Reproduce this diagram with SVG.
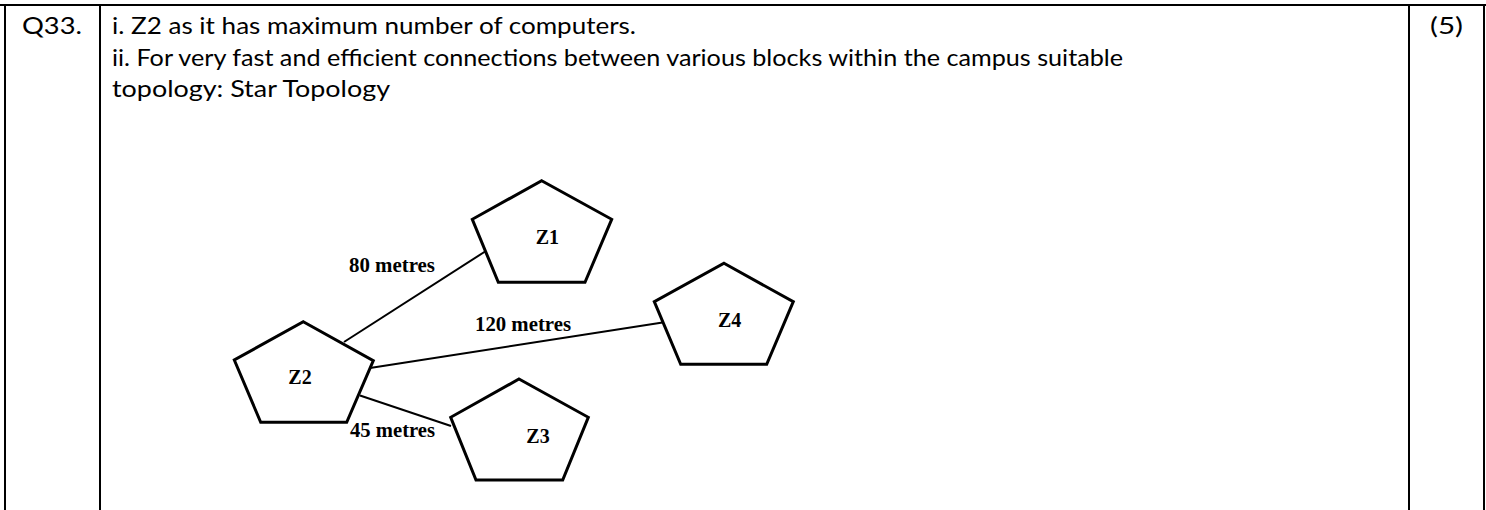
<svg xmlns="http://www.w3.org/2000/svg" width="1486" height="510" viewBox="0 0 1486 510">
<style>
.grid{stroke:#000;stroke-width:2;fill:none}
.t{font-family:Lato,"Open Sans","Liberation Sans",sans-serif;font-size:23px;fill:#000}
.pent{fill:#fff;stroke:#000;stroke-width:3;stroke-linejoin:miter}
.lbl{font-family:"Liberation Serif","Times New Roman",serif;font-weight:bold;font-size:20px;fill:#000}
.edge{stroke:#000;stroke-width:2;fill:none}
</style>
<rect width="1486" height="510" fill="#fff"/>
<g id="table">
<line class="grid" x1="0" y1="5" x2="1486" y2="5"/>
<line class="grid" x1="5" y1="4" x2="5" y2="510"/>
<line class="grid" x1="100" y1="4" x2="100" y2="510"/>
<line class="grid" x1="1409" y1="4" x2="1409" y2="510"/>
<line class="grid" x1="1484" y1="4" x2="1484" y2="510"/>
<text class="t" x="22" y="34" textLength="60" lengthAdjust="spacingAndGlyphs">Q33.</text>
<text class="t" x="112" y="34" textLength="524" lengthAdjust="spacingAndGlyphs">i. Z2 as it has maximum number of computers.</text>
<text class="t" x="112" y="66" textLength="1011" lengthAdjust="spacingAndGlyphs">ii. For very fast and efficient connections between various blocks within the campus suitable</text>
<text class="t" x="112" y="97" textLength="278" lengthAdjust="spacingAndGlyphs">topology: Star Topology</text>
<text class="t" x="1430" y="34" textLength="33" lengthAdjust="spacingAndGlyphs">(5)</text>
</g>
<g id="connectors">
<line class="edge" x1="344" y1="342" x2="489" y2="249"/>
<line class="edge" x1="370" y1="368" x2="669" y2="321.5"/>
<line class="edge" x1="360" y1="395.5" x2="451" y2="426"/>
<text class="lbl" x="349" y="272" textLength="86" lengthAdjust="spacingAndGlyphs">80 metres</text>
<text class="lbl" x="475" y="331" textLength="96" lengthAdjust="spacingAndGlyphs">120 metres</text>
<text class="lbl" x="350" y="437" textLength="85" lengthAdjust="spacingAndGlyphs">45 metres</text>
</g>
<g id="Z1">
<polygon class="pent" points="541.7,180.7 611.7,219.3 585,282.3 498.3,282.3 472.3,219.3"/>
<text class="lbl" x="547.3" y="244" text-anchor="middle">Z1</text>
</g>
<g id="Z2">
<polygon class="pent" points="303.3,321.7 373.3,360.7 346.7,422.3 260.7,422.3 234.3,360"/>
<text class="lbl" x="300" y="384.3" text-anchor="middle">Z2</text>
</g>
<g id="Z3">
<polygon class="pent" points="519,379 588.3,417.3 562.7,480 476,480 450.7,417.3"/>
<text class="lbl" x="538" y="442.7" text-anchor="middle">Z3</text>
</g>
<g id="Z4">
<polygon class="pent" points="724,263.3 793.3,301.7 766.7,364.3 680.7,364.3 654.3,301.7"/>
<text class="lbl" x="729.7" y="326.7" text-anchor="middle">Z4</text>
</g>
</svg>
